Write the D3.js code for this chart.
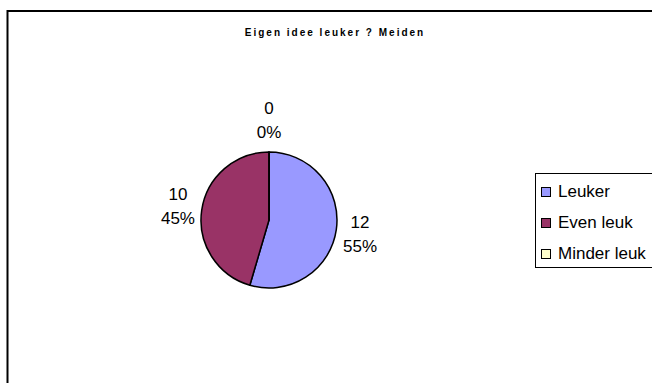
<!DOCTYPE html>
<html>
<head>
<meta charset="utf-8">
<script src="https://cdn.jsdelivr.net/npm/d3@7"></script>
<style>
  html, body { margin: 0; padding: 0; background: #fff; }
  svg { display: block; font-family: 'Liberation Sans', Arial, sans-serif; }
</style>
</head>
<body>
<svg id="chart" width="652" height="383"></svg>
<script>
const title = 'Eigen idee leuker ? Meiden'
const categories = ['Leuker', 'Even leuk', 'Minder leuk']
const values = [12, 10, 0]
const sliceColors = ['#9999ff', '#993366', '#ffffcc']

const svg = d3.select('#chart')
const W = 652
const H = 383

// outer chart frame (right/bottom run off the picture)
svg.append('rect')
  .attr('x', 7.5)
  .attr('y', 11)
  .attr('width', 660)
  .attr('height', 390)
  .attr('fill', '#fff')
  .attr('stroke', '#000')
  .attr('stroke-width', 2)

svg.append('text')
  .attr('x', 335)
  .attr('y', 35.5)
  .attr('text-anchor', 'middle')
  .attr('font-size', 10)
  .attr('font-weight', 'bold')
  .attr('letter-spacing', 2)
  .attr('fill', '#000')
  .text(title)

const cx = 269
const cy = 220
const r = 68
const total = d3.sum(values)

const pie = d3.pie().sort(null).value((d) => d)
const arcs = pie(values)
const arc = d3.arc().innerRadius(0).outerRadius(r)
const color = d3.scaleOrdinal().domain(categories).range(sliceColors)

const g = svg.append('g').attr('transform', `translate(${cx},${cy})`)

g.selectAll('path.slice')
  .data(arcs)
  .enter()
  .append('path')
  .attr('class', 'slice')
  .attr('d', arc)
  .attr('fill', (d, i) => color(categories[i]))
  .attr('stroke', '#000')
  .attr('stroke-width', 1.5)
  .attr('stroke-linejoin', 'round')

// labels sit on an ellipse round the pie
const labRx = 92
const labRy = 100
const lineGap = 24
const lab = g.selectAll('g.lab')
  .data(arcs)
  .enter()
  .append('g')
  .attr('class', 'lab')
  .attr('transform', (d) => {
    const a = (d.startAngle + d.endAngle) / 2
    return `translate(${Math.sin(a) * labRx},${-Math.cos(a) * labRy})`
  })

lab.append('text')
  .attr('text-anchor', 'middle')
  .attr('font-size', 17)
  .attr('y', -lineGap / 2 + 6)
  .text((d) => d.value)
lab.append('text')
  .attr('text-anchor', 'middle')
  .attr('font-size', 17)
  .attr('y', lineGap / 2 + 6)
  .text((d) => Math.round(d.value / total * 100) + '%')

// legend
const lx = 535
const ly = 173
svg.append('rect')
  .attr('x', lx + 0.5)
  .attr('y', ly + 0.5)
  .attr('width', 130)
  .attr('height', 94)
  .attr('fill', '#fff')
  .attr('stroke', '#000')
  .attr('stroke-width', 1)

const legY = d3.scalePoint().domain(categories).range([197, 259])
const leg = svg.selectAll('g.leg')
  .data(categories)
  .enter()
  .append('g')
  .attr('class', 'leg')
  .attr('transform', (d) => `translate(0,${legY(d)})`)

leg.append('rect')
  .attr('x', 541.5)
  .attr('y', -9.5)
  .attr('width', 9)
  .attr('height', 9)
  .attr('fill', (d) => color(d))
  .attr('stroke', '#000')
  .attr('stroke-width', 1)

leg.append('text')
  .attr('x', 558)
  .attr('y', 0)
  .attr('font-size', 17)
  .text((d) => d)
</script>
</body>
</html>
